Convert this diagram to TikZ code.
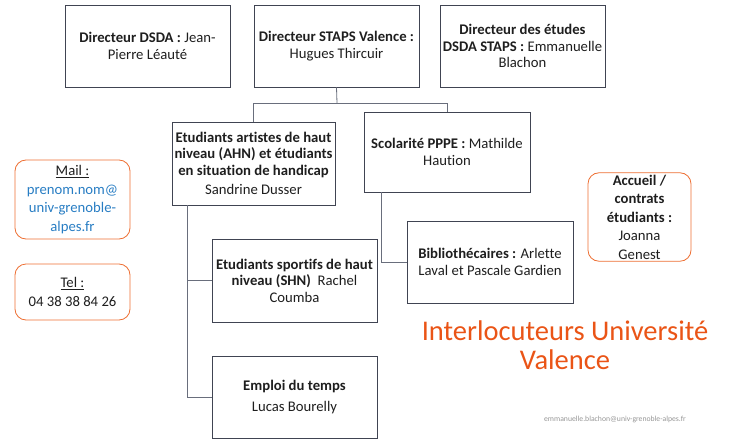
\documentclass[tikz,border=0pt]{standalone}
\usepackage{fontspec}
\setmainfont{Carlito}[Ligatures={NoCommon,TeX}]
\usepackage{xcolor}
\usepackage{tikz}
\usetikzlibrary{positioning}

\definecolor{boxline}{RGB}{64,68,82}
\definecolor{linkgray}{RGB}{105,110,124}
\definecolor{textdark}{RGB}{30,30,30}
\definecolor{orangeline}{RGB}{237,110,50}
\definecolor{titleorange}{RGB}{234,84,22}
\definecolor{mailblue}{RGB}{40,125,195}
\definecolor{footgray}{RGB}{150,150,150}

\tikzset{
  orgbox/.style={draw=boxline, line width=0.8pt, minimum width=165pt, minimum height=82pt,
    align=center, inner sep=2pt, text=textdark, font=\fontsize{14.7}{16.5}\selectfont},
  infobox/.style={draw=orangeline, line width=0.8pt, rounded corners=11pt, align=center,
    inner sep=2pt, text=textdark, font=\fontsize{14.7}{18.5}\selectfont},
  link/.style={draw=linkgray, line width=0.8pt}
}

\begin{document}
\begin{tikzpicture}[x=1pt, y=-1pt]
    \useasboundingbox (0,0) rectangle (729,439);

    % Directors on top
    \node[orgbox] (dsda) at (147.5,46) {\textbf{Directeur DSDA :} Jean-\\Pierre Léauté};
    \node[orgbox] (staps) at (336.5,46) {\textbf{Directeur STAPS Valence :}\\Hugues Thircuir};
    \node[orgbox] (etudes) at (522.5,46) {\textbf{Directeur des études}\\\textbf{DSDA STAPS :} Emmanuelle\\Blachon};

    % Second level
    \node[orgbox, minimum width=163pt, minimum height=83pt] (ahn) at (253.5,163.5)
        {\textbf{Etudiants artistes de haut}\\\textbf{niveau (AHN) et étudiants}\\\textbf{en situation de handicap}\\[3pt]Sandrine Dusser};
    \node[orgbox, minimum width=166pt, minimum height=80pt] (scol) at (447,152)
        {\textbf{Scolarité PPPE :} Mathilde\\Haution};

    % Third level
    \node[orgbox, minimum height=83pt] (shn) at (294.5,280.5)
        {\textbf{Etudiants sportifs de haut}\\\textbf{niveau (SHN)}\ \ Rachel\\Coumba};
    \node[orgbox, minimum width=166pt] (biblio) at (490,262)
        {\textbf{Bibliothécaires :} Arlette\\Laval et Pascale Gardien};
    \node[orgbox] (emploi) at (294.5,397)
        {\textbf{Emploi du temps}\\[4pt]Lucas Bourelly};

    % Connectors
    \coordinate (split) at (337,103);
    \draw[link] (staps.south) -- (split);
    \draw[link] (split) -| (ahn.north);
    \draw[link] (split) -| (scol.north);
    \draw[link] ([xshift=-66.5pt]ahn.south) |- (shn.west);
    \draw[link] ([xshift=-66.5pt]ahn.south) |- (emploi.west);
    \draw[link] ([xshift=-66pt]scol.south) |- (biblio.west);

    % Contact boxes
    \node[infobox, minimum width=115pt, minimum height=79pt] (mail) at (72.5,199.5)
        {\underline{Mail :}\\\textcolor{mailblue}{prenom.nom@}\\\textcolor{mailblue}{univ-grenoble-}\\\textcolor{mailblue}{alpes.fr}};
    \node[infobox, minimum width=115pt, minimum height=56pt] (tel) at (72.5,292)
        {\underline{Tel :}\\04 38 38 84 26};
    \node[infobox, minimum width=103pt, minimum height=88pt] (accueil) at (639.5,217)
        {\textbf{Accueil /}\\\textbf{contrats}\\\textbf{étudiants :}\\Joanna\\Genest};

    % Title and footer
    \node[text=titleorange, align=center, font=\fontsize{28.5}{29.5}\selectfont] (title) at (565,345)
        {Interlocuteurs Université\\Valence};
    \node[text=footgray, font=\fontsize{7.7}{9}\selectfont] (footer) at (615,419)
        {emmanuelle.blachon@univ-grenoble-alpes.fr};
\end{tikzpicture}
\end{document}
